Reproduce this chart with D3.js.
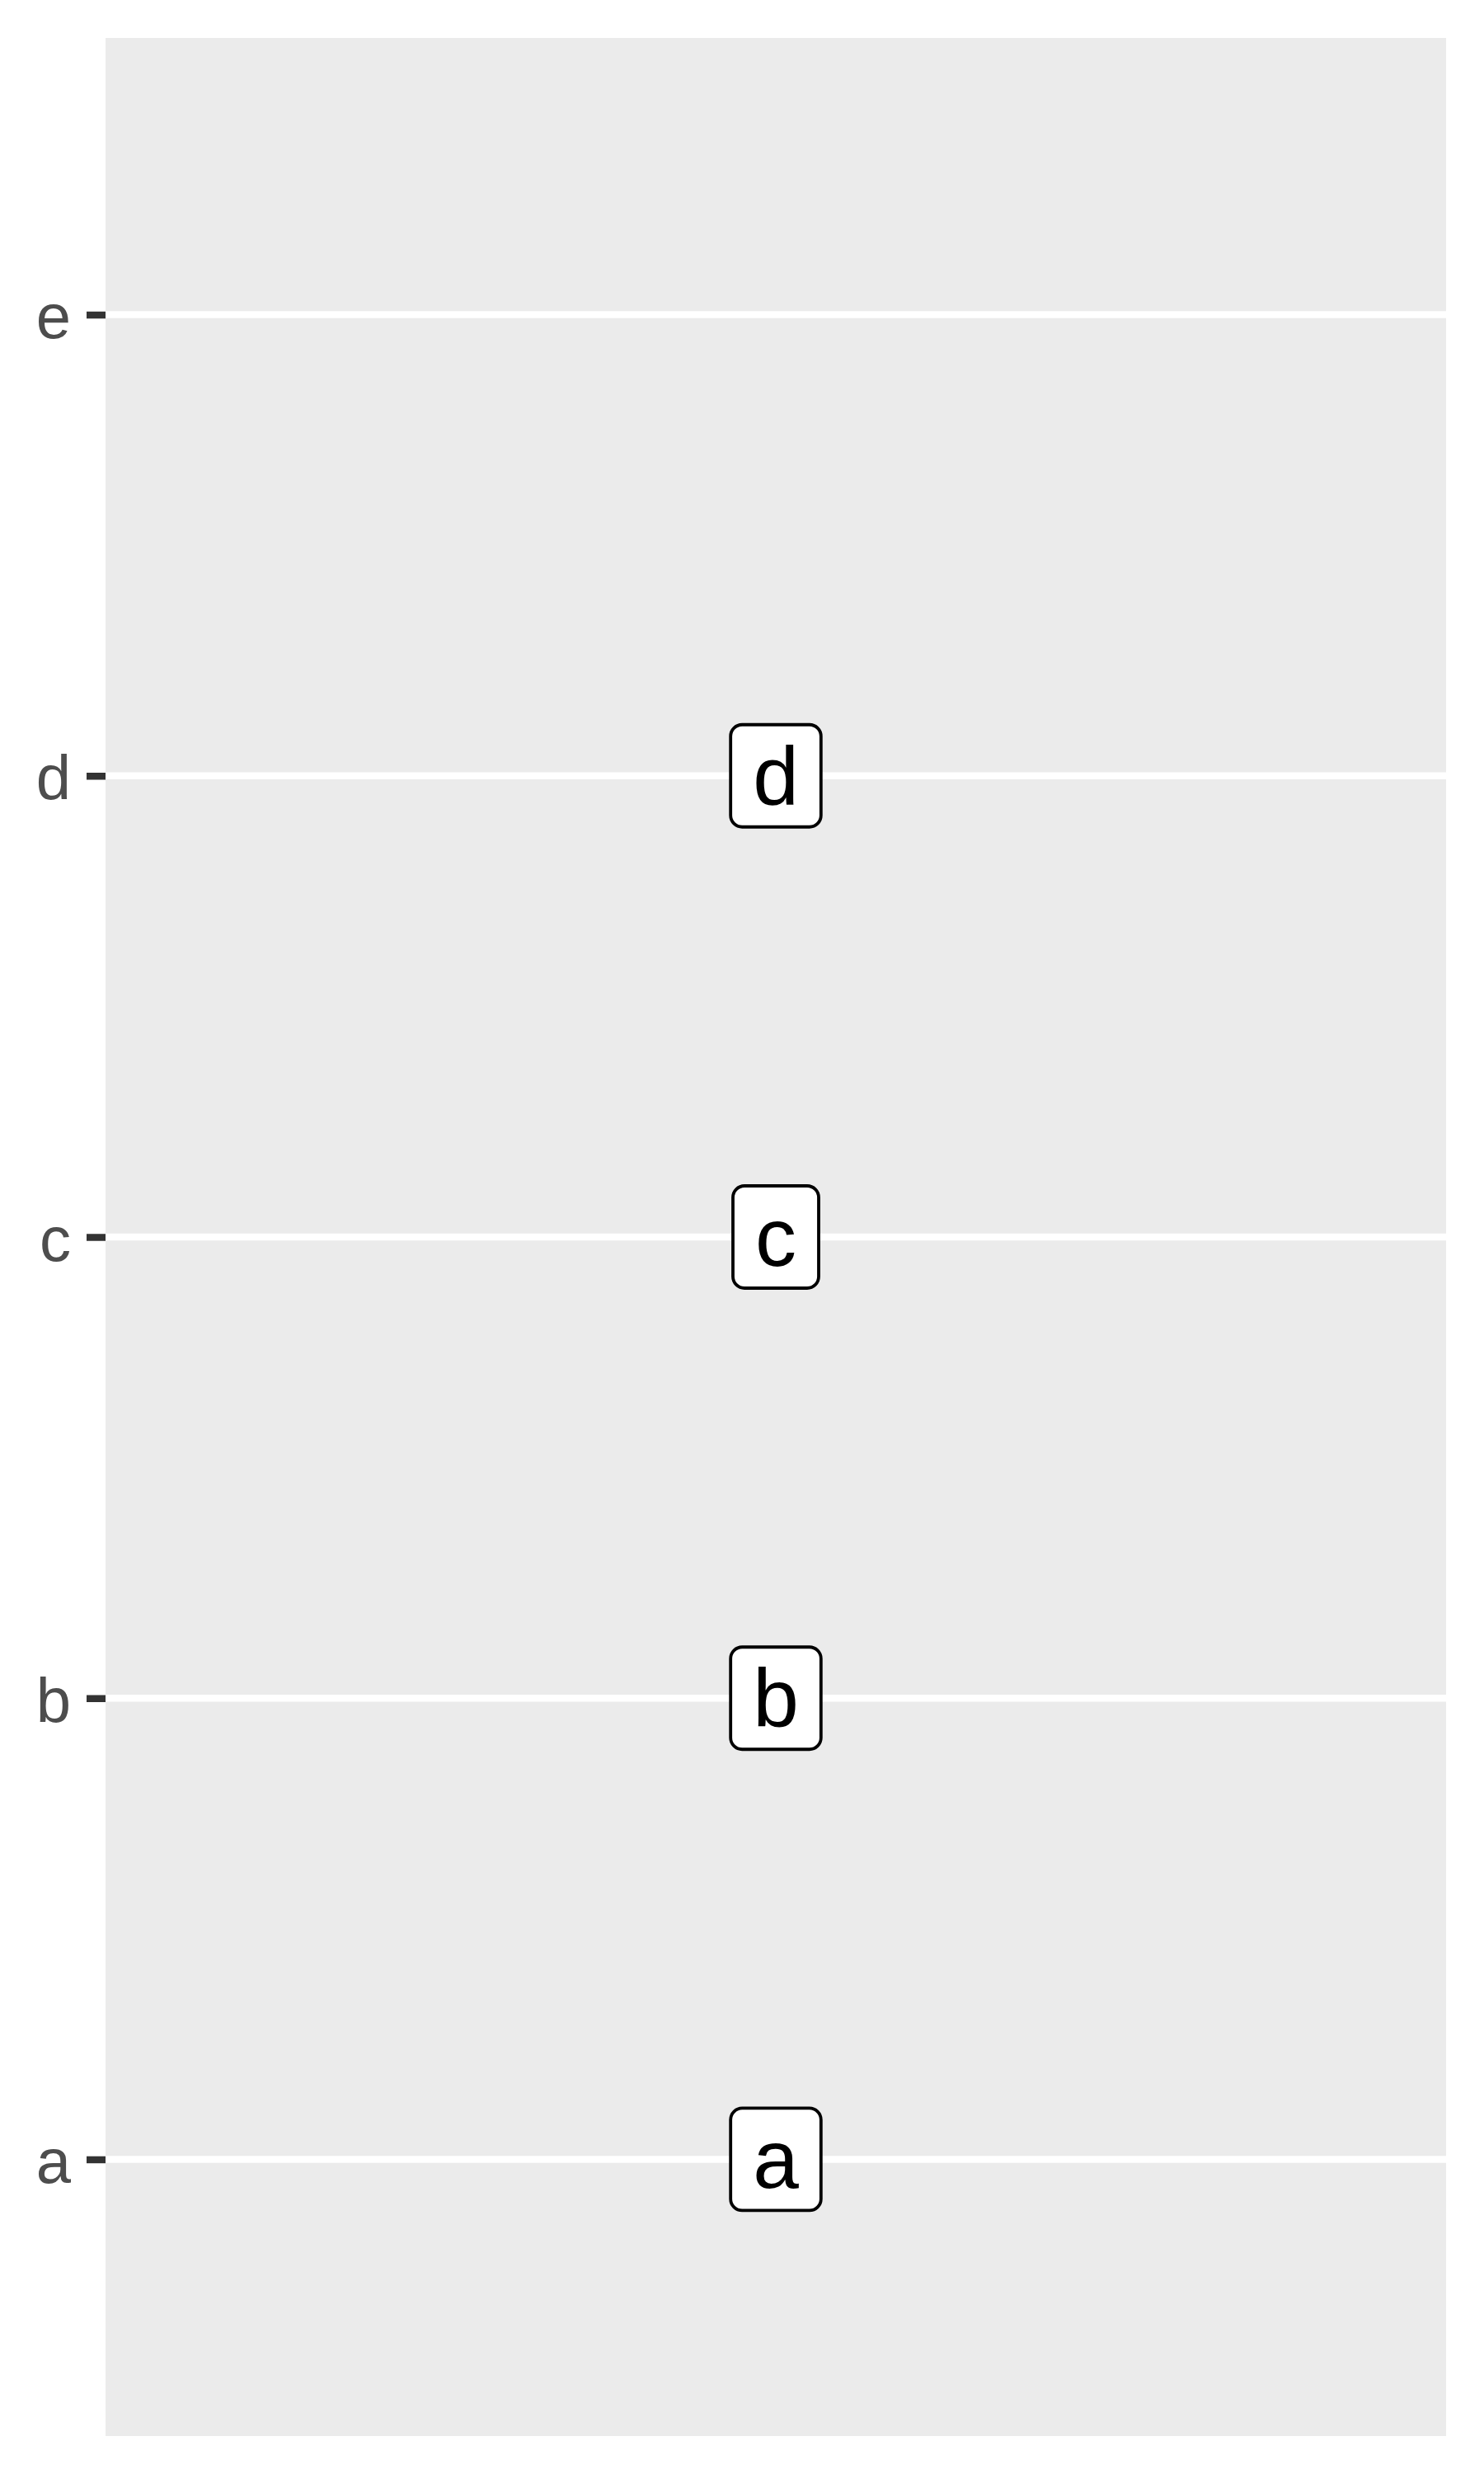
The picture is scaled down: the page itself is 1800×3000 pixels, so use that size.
<!DOCTYPE html>
<html>
<head>
<meta charset="utf-8">
<script src="https://cdn.jsdelivr.net/npm/d3@7"></script>
<style>
  html, body { margin: 0; padding: 0; background: #ffffff; }
  svg { display: block; }
</style>
</head>
<body>
<script>
// Data
const categories = ["a", "b", "c", "d", "e"];
const labelCats = ["a", "b", "c", "d"];
const labelTexts = ["a", "b", "c", "d"];
const xValues = [1, 1, 1, 1];

const W = 1800, H = 3000;
const panel = { left: 128, right: 1754, top: 46, bottom: 2954 };

const svg = d3.select("body").append("svg")
  .attr("width", W).attr("height", H)
  .style("font-family", "'Liberation Sans', Arial, Helvetica, sans-serif");

svg.append("rect").attr("width", W).attr("height", H).attr("fill", "#ffffff");

const y = d3.scalePoint()
  .domain(categories)
  .range([panel.bottom, panel.top])
  .padding(0.6);

const x = d3.scaleLinear()
  .domain([0.95, 1.05])
  .range([panel.left, panel.right]);

// panel background
svg.append("rect")
  .attr("x", panel.left).attr("y", panel.top)
  .attr("width", panel.right - panel.left)
  .attr("height", panel.bottom - panel.top)
  .attr("fill", "#EBEBEB");

// gridlines
svg.append("g").selectAll("line")
  .data(categories)
  .join("line")
  .attr("x1", panel.left).attr("x2", panel.right)
  .attr("y1", d => y(d)).attr("y2", d => y(d))
  .attr("stroke", "#ffffff")
  .attr("stroke-width", 8.5);

// y axis
const yAxis = d3.axisLeft(y).tickSize(23).tickPadding(19);
const gy = svg.append("g")
  .attr("transform", `translate(${panel.left},0)`)
  .call(yAxis);
gy.select(".domain").remove();
gy.selectAll(".tick line").attr("stroke", "#333333").attr("stroke-width", 8.5);
gy.selectAll(".tick text")
  .attr("fill", "#4D4D4D")
  .attr("font-size", 76)
  .attr("dy", null)
  .attr("y", 28)
  .style("font-family", "'Liberation Sans', Arial, Helvetica, sans-serif");

// labels
const labels = labelCats.map((c, i) => ({ cat: c, text: labelTexts[i], x: xValues[i] }));
const lg = svg.append("g").selectAll("g")
  .data(labels)
  .join("g")
  .attr("transform", d => `translate(${x(d.x)},${y(d.cat)})`);

lg.append("text")
  .attr("text-anchor", "middle")
  .attr("y", 35)
  .attr("font-size", 100)
  .attr("fill", "#000000")
  .text(d => d.text);

const pad = 27, boxH = 124;
lg.each(function() {
  const g = d3.select(this);
  const t = g.select("text").node();
  const w = t.getComputedTextLength();
  g.insert("rect", "text")
    .attr("x", -w / 2 - pad)
    .attr("y", -boxH / 2)
    .attr("width", w + 2 * pad)
    .attr("height", boxH)
    .attr("rx", 14).attr("ry", 14)
    .attr("fill", "#ffffff")
    .attr("stroke", "#000000")
    .attr("stroke-width", 3.8);
});
</script>
</body>
</html>
